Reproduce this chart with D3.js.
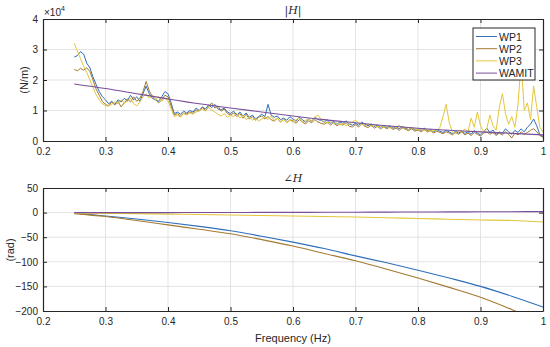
<!DOCTYPE html>
<html>
<head>
<meta charset="utf-8">
<script src="https://cdn.jsdelivr.net/npm/d3@7"></script>
<style>
  body { margin: 0; background: #fff; }
  svg { font-family: "Liberation Sans", Arial, sans-serif; }
  .grid line { stroke: #e3e3e3; stroke-width: 1; }
  .ax path, .ax line { stroke: #262626; }
  .ax text { fill: #262626; font-size: 10px; }
</style>
</head>
<body>
<svg width="550" height="347"></svg>
<script>
// magnitude |H| in units of 1e4 N/m, sampled every 0.005 Hz from 0.25 to 1.0
const magWP1 = [
  2.75, 2.80, 2.93, 2.85, 2.55, 2.40, 2.10, 1.85, 1.62, 1.45, 1.35,
  1.22, 1.30, 1.20, 1.35, 1.28, 1.40, 1.32, 1.50, 1.35, 1.45,
  1.30, 1.55, 1.80, 1.55, 1.40, 1.35, 1.30, 1.45, 1.62, 1.55,
  1.25, 0.90, 0.95, 0.88, 0.98, 0.92, 1.00, 0.95, 1.08, 1.00,
  1.12, 1.05, 1.18, 1.10, 1.20, 1.05, 1.02, 1.08, 0.95, 0.90,
  0.98, 0.85, 0.95, 0.82, 0.92, 0.78, 0.85, 0.72, 0.80, 0.88,
  0.80, 1.20, 0.85, 0.78, 0.82, 0.70, 0.75, 0.68, 0.80, 0.72,
  0.65, 0.78, 0.70, 0.62, 0.72, 0.65, 0.78, 0.70, 0.68, 0.62,
  0.70, 0.58, 0.64, 0.55, 0.62, 0.58, 0.66, 0.56, 0.52, 0.58,
  0.52, 0.62, 0.55, 0.50, 0.56, 0.48, 0.52, 0.45, 0.50, 0.44,
  0.50, 0.42, 0.46, 0.40, 0.48, 0.42, 0.38, 0.44, 0.36, 0.40,
  0.35, 0.42, 0.34, 0.38, 0.30, 0.36, 0.32, 0.28, 0.35, 0.30,
  0.24, 0.32, 0.26, 0.33, 0.25, 0.30, 0.22, 0.34, 0.26, 0.20,
  0.30, 0.42, 0.28, 0.36, 0.22, 0.30, 0.25, 0.40, 0.30, 0.22,
  0.35, 0.28, 0.40, 0.30, 0.45, 0.55, 0.72, 0.50, 0.20, 0.15
];
const magWP2 = [
  2.35, 2.30, 2.38, 2.32, 2.40, 2.28, 2.00, 1.70, 1.50, 1.30, 1.20,
  1.15, 1.28, 1.18, 1.30, 1.12, 1.25, 1.38, 1.28, 1.45, 1.30,
  1.40, 1.62, 1.95, 1.65, 1.45, 1.38, 1.25, 1.35, 1.50, 1.45,
  1.15, 0.85, 0.90, 0.82, 0.92, 0.88, 0.95, 0.90, 1.02, 0.98,
  1.10, 1.00, 1.12, 1.25, 1.08, 1.15, 0.98, 1.05, 0.90, 0.85,
  0.92, 0.80, 0.90, 0.75, 0.88, 0.72, 0.80, 0.68, 0.78, 0.82,
  0.72, 0.80, 0.70, 0.65, 0.75, 0.62, 0.72, 0.60, 0.70, 0.66,
  0.58, 0.70, 0.62, 0.56, 0.66, 0.60, 0.70, 0.62, 0.58, 0.55,
  0.62, 0.52, 0.60, 0.50, 0.56, 0.52, 0.60, 0.48, 0.46, 0.54,
  0.46, 0.56, 0.48, 0.44, 0.52, 0.42, 0.48, 0.40, 0.46, 0.40,
  0.46, 0.38, 0.42, 0.35, 0.44, 0.38, 0.34, 0.40, 0.32, 0.36,
  0.30, 0.38, 0.30, 0.34, 0.26, 0.32, 0.28, 0.24, 0.30, 0.26,
  0.20, 0.28, 0.22, 0.30, 0.20, 0.26, 0.18, 0.28, 0.22, 0.16,
  0.26, 0.30, 0.22, 0.28, 0.18, 0.26, 0.20, 0.30, 0.22, 0.10,
  0.26, 0.20, 0.30, 0.22, 0.28, 0.35, 0.40, 0.30, 0.18, 0.12
];
const magWP3 = [
  3.20, 2.95, 2.70, 2.45, 2.25, 2.00, 1.75, 1.52, 1.35, 1.22, 1.15,
  1.15, 1.20, 1.28, 1.22, 1.35, 1.25, 1.30, 1.40, 1.22, 1.15,
  1.28, 1.45, 1.55, 1.40, 1.50, 1.35, 1.45, 1.30, 1.40, 1.32,
  1.05, 0.80, 0.85, 0.78, 0.90, 0.85, 0.92, 0.88, 0.95, 1.00,
  1.05, 0.98, 1.10, 1.02, 0.95, 0.88, 0.82, 0.90, 0.78, 0.85,
  0.80, 0.90, 0.75, 0.85, 0.70, 0.80, 0.68, 0.75, 0.65, 0.72,
  0.78, 0.70, 0.82, 0.68, 0.75, 0.62, 0.70, 0.60, 0.68, 0.62,
  0.70, 0.75, 0.62, 0.68, 0.72, 0.65, 0.78, 0.85, 0.70, 0.60,
  0.58, 0.65, 0.55, 0.60, 0.52, 0.58, 0.50, 0.56, 0.62, 0.68,
  0.60, 0.55, 0.50, 0.56, 0.48, 0.52, 0.46, 0.50, 0.44, 0.48,
  0.42, 0.48, 0.44, 0.52, 0.40, 0.46, 0.38, 0.44, 0.40, 0.36,
  0.42, 0.34, 0.38, 0.30, 0.36, 0.32, 0.45, 0.80, 1.20, 0.60,
  0.30, 0.25, 0.35, 0.28, 0.40, 0.30, 0.75, 0.45, 0.95, 0.50,
  0.30, 0.40, 0.85, 0.50, 0.35, 1.10, 1.55, 0.90, 0.55, 0.80,
  0.45, 1.20, 2.60, 1.00, 1.25, 0.70, 1.80, 1.10, 0.45, 0.30
];
// WAMIT magnitude, every 0.05 Hz
const wamitFreq = [0.25, 0.30, 0.35, 0.40, 0.45, 0.50, 0.55, 0.60, 0.65, 0.70, 0.75, 0.80, 0.85, 0.90, 0.95, 1.00];
const magWAMIT = [1.87, 1.72, 1.55, 1.38, 1.22, 1.08, 0.95, 0.82, 0.70, 0.60, 0.50, 0.42, 0.35, 0.30, 0.25, 0.20];

// phase (rad), every 0.05 Hz
const phaseFreq = [0.25, 0.30, 0.35, 0.40, 0.45, 0.50, 0.55, 0.60, 0.65, 0.70, 0.75, 0.80, 0.85, 0.90, 0.95, 1.00];
const phWP1 = [-1, -7, -13, -20, -28, -37, -48, -60, -73, -88, -102, -117, -133, -150, -170, -192];
const phWP2 = [-2, -8, -16, -25, -34, -43, -55, -68, -83, -98, -115, -133, -152, -172, -197, -225];
const phWP3 = [-1, -1.5, -2, -3, -4, -5, -6, -7, -8, -9, -10.5, -12, -13.5, -15, -16, -19];
const phWAMIT = [0, 0, 0, 0, 0.2, 0.3, 0.4, 0.5, 0.6, 0.8, 1, 1.2, 1.4, 1.6, 1.8, 2];

const names = ["WP1", "WP2", "WP3", "WAMIT"];
const colors = ["#2f6fba", "#a37a32", "#e3c63a", "#7a4f9a"];

const xTicks = [0.2, 0.3, 0.4, 0.5, 0.6, 0.7, 0.8, 0.9, 1];
const magTicks = [0, 1, 2, 3, 4];
const phTicks = [-200, -150, -100, -50, 0, 50];

const svg = d3.select("svg");
const left = 43, right = 543;

const x = d3.scaleLinear().domain([0.2, 1]).range([left, right]);
const yMag = d3.scaleLinear().domain([0, 4]).range([141, 19]);
const yPh = d3.scaleLinear().domain([-200, 50]).range([311, 188]);

const fine = d3.range(magWP1.length).map(i => 0.25 + i * 0.005);

function panel(y, yTicks, id) {
    const g = svg.append("g");
    const [y0, y1] = y.range();

    // grid
    const grid = g.append("g").attr("class", "grid");
    grid.selectAll(".gx").data(xTicks.slice(1, -1)).enter().append("line")
        .attr("x1", d => x(d)).attr("x2", d => x(d)).attr("y1", y0).attr("y2", y1);
    grid.selectAll(".gy").data(yTicks.slice(1, -1)).enter().append("line")
        .attr("x1", left).attr("x2", right).attr("y1", d => y(d)).attr("y2", d => y(d));

    svg.append("clipPath").attr("id", id)
        .append("rect").attr("x", left).attr("y", y1).attr("width", right - left).attr("height", y0 - y1);

    const plot = g.append("g").attr("clip-path", `url(#${id})`);

    // axes with inward ticks on all sides
    g.append("g").attr("class", "ax").attr("transform", `translate(0,${y0})`)
        .call(d3.axisBottom(x).tickValues(xTicks).tickSizeInner(-4).tickSizeOuter(0).tickPadding(7).tickFormat(d3.format("")));
    g.append("g").attr("class", "ax").attr("transform", `translate(0,${y1})`)
        .call(d3.axisTop(x).tickValues(xTicks).tickSizeInner(-4).tickSizeOuter(0).tickFormat(""));
    g.append("g").attr("class", "ax").attr("transform", `translate(${left},0)`)
        .call(d3.axisLeft(y).tickValues(yTicks).tickSizeInner(-4).tickSizeOuter(0).tickPadding(5).tickFormat(d3.format("")));
    g.append("g").attr("class", "ax").attr("transform", `translate(${right},0)`)
        .call(d3.axisRight(y).tickValues(yTicks).tickSizeInner(-4).tickSizeOuter(0).tickFormat(""));
    g.selectAll(".ax .domain").attr("stroke-width", 1.2);

    return plot;
}

const magPlot = panel(yMag, magTicks, "clipTop");
const phPlot = panel(yPh, phTicks, "clipBot");

const lineMag = d3.line().x(d => x(d[0])).y(d => yMag(d[1]));
const linePh = d3.line().x(d => x(d[0])).y(d => yPh(d[1]));

[magWP1, magWP2, magWP3].forEach((s, i) => {
    magPlot.append("path")
        .datum(s.map((v, j) => [fine[j], v]))
        .attr("d", lineMag).attr("fill", "none")
        .attr("stroke", colors[i]).attr("stroke-width", 1);
});
magPlot.append("path")
    .datum(magWAMIT.map((v, j) => [wamitFreq[j], v]))
    .attr("d", lineMag.curve(d3.curveMonotoneX)).attr("fill", "none")
    .attr("stroke", colors[3]).attr("stroke-width", 1.1);

[phWP1, phWP2, phWP3, phWAMIT].forEach((s, i) => {
    phPlot.append("path")
        .datum(s.map((v, j) => [phaseFreq[j], v]))
        .attr("d", linePh.curve(d3.curveMonotoneX)).attr("fill", "none")
        .attr("stroke", colors[i]).attr("stroke-width", 1.1);
});

// titles and labels
svg.append("text").attr("x", 293).attr("y", 14).attr("text-anchor", "middle")
    .attr("font-family", "DejaVu Serif, serif").attr("font-size", 11).attr("fill", "#262626")
    .html('|<tspan font-style="italic">H</tspan>|');
svg.append("text").attr("x", 293).attr("y", 182).attr("text-anchor", "middle")
    .attr("font-family", "DejaVu Serif, serif").attr("font-size", 11).attr("fill", "#262626")
    .html('∠<tspan font-style="italic">H</tspan>');

svg.append("text").attr("x", 44).attr("y", 16).attr("font-size", 10).attr("fill", "#262626")
    .html('×10<tspan dy="-5" font-size="7">4</tspan>');

svg.append("text").attr("transform", "translate(28,80) rotate(-90)").attr("text-anchor", "middle")
    .attr("font-size", 11).attr("fill", "#262626").text("(N/m)");
svg.append("text").attr("transform", "translate(14,250) rotate(-90)").attr("text-anchor", "middle")
    .attr("font-size", 11).attr("fill", "#262626").text("(rad)");
svg.append("text").attr("x", 293).attr("y", 342).attr("text-anchor", "middle")
    .attr("font-size", 11).attr("fill", "#262626").text("Frequency (Hz)");

// legend
const leg = svg.append("g");
leg.append("rect").attr("x", 473).attr("y", 28).attr("width", 62).attr("height", 52)
    .attr("fill", "#fff").attr("stroke", "#262626").attr("stroke-width", 1);
names.forEach((n, i) => {
    const yy = 36.5 + i * 12.2;
    leg.append("line").attr("x1", 476).attr("x2", 497).attr("y1", yy).attr("y2", yy)
        .attr("stroke", colors[i]).attr("stroke-width", 1);
    leg.append("text").attr("x", 499).attr("y", yy + 4).attr("font-size", 10.5)
        .attr("fill", "#262626").text(n);
});
</script>
</body>
</html>
